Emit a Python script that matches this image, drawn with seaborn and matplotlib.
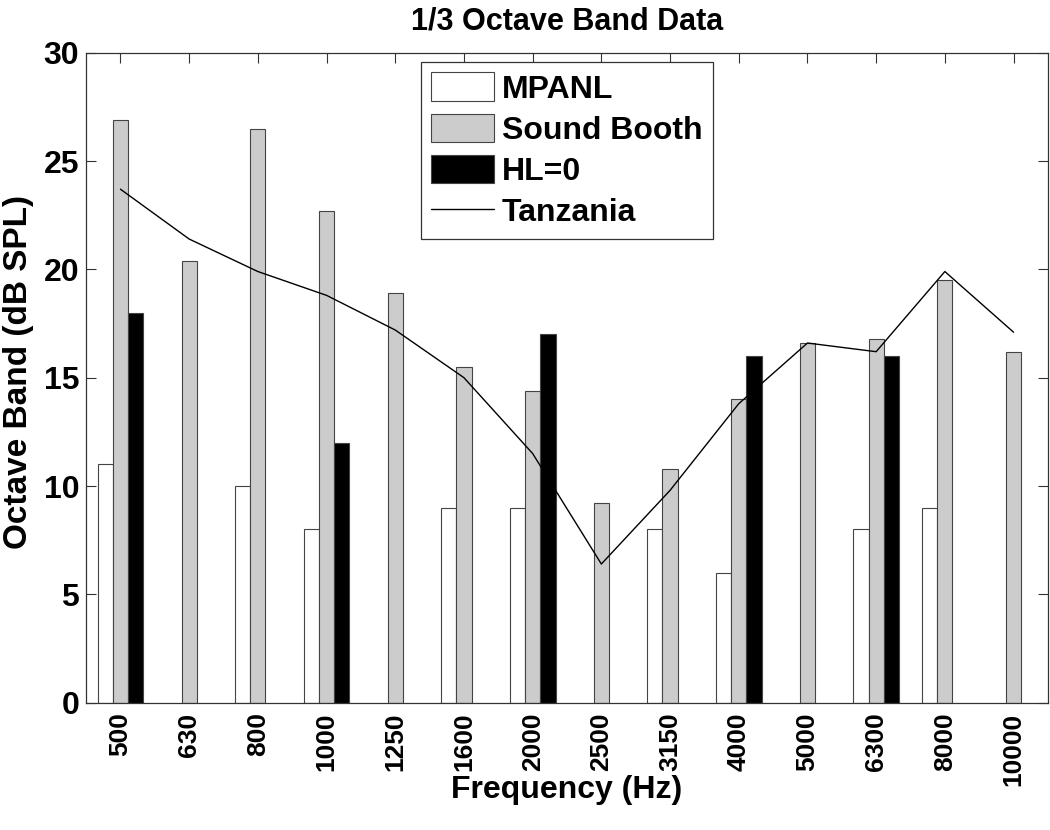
import numpy as np
import pandas as pd
import matplotlib
matplotlib.use("Agg")
import matplotlib.pyplot as plt
import seaborn as sns
from matplotlib.patches import Patch
from matplotlib.lines import Line2D

# 1/3 octave band centre frequencies
freq_labels = ["500", "630", "800", "1000", "1250", "1600", "2000",
               "2500", "3150", "4000", "5000", "6300", "8000", "10000"]

# values (dB SPL), NaN = no bar
mpanl = [11, np.nan, 10, 8, np.nan, 9, 9, np.nan, 8, 6, np.nan, 8, 9, np.nan]
sound_booth = [26.9, 20.4, 26.5, 22.7, 18.9, 15.5, 14.4, 9.2, 10.8, 14.0,
               16.6, 16.8, 19.5, 16.2]
hl0 = [18, np.nan, np.nan, 12, np.nan, np.nan, 17, np.nan, np.nan, 16,
       np.nan, 16, np.nan, np.nan]
tanzania = [23.7, 21.4, 19.9, 18.8, 17.2, 15.0, 11.5, 6.4, 9.8, 13.8,
            16.6, 16.2, 19.9, 17.1]

series_names = ["MPANL", "Sound Booth", "HL=0"]
series_colors = ["white", "#cccccc", "black"]

df = pd.DataFrame({
    "freq": freq_labels * 3,
    "value": mpanl + sound_booth + hl0,
    "series": [s for s in series_names for _ in freq_labels],
})

sns.set_style("ticks")
plt.rcParams["font.family"] = ["Liberation Sans", "DejaVu Sans"]
plt.rcParams["font.weight"] = "bold"
plt.rcParams["text.color"] = "black"
plt.rcParams["axes.labelcolor"] = "black"
plt.rcParams["xtick.labelcolor"] = "black"
plt.rcParams["ytick.labelcolor"] = "black"

fig = plt.figure(figsize=(10.5, 8.3), dpi=100)
ax = fig.add_axes([0.082, 0.1534, 0.916, 0.7831])

sns.barplot(data=df, x="freq", y="value", hue="series",
            order=freq_labels, hue_order=series_names,
            palette=dict(zip(series_names, series_colors)),
            edgecolor="#444444", linewidth=0.8, width=0.667,
            errorbar=None, legend=False, ax=ax)

# Tanzania line at group centres
sns.lineplot(x=np.arange(len(freq_labels)), y=tanzania, color="black",
             linewidth=1.0, ax=ax, zorder=5)

ax.set_xlim(-0.5, len(freq_labels) - 0.5)
ax.set_ylim(0, 30)
ax.set_yticks(range(0, 31, 5))
ax.set_xticks(range(len(freq_labels)))
ax.set_xticklabels(freq_labels, rotation=90, fontsize=19, fontweight="bold")
ax.tick_params(axis="y", labelsize=23)
ax.tick_params(direction="in", length=7, width=0.8, top=True, right=True,
               color="#333333", labelcolor="black")
ax.tick_params(axis="x", pad=7)
ax.tick_params(axis="y", pad=5)
for lab in ax.get_yticklabels():
    lab.set_fontweight("bold")
for sp in ax.spines.values():
    sp.set_visible(True)
    sp.set_linewidth(0.9)
    sp.set_color("#333333")

ax.set_xlabel("Frequency (Hz)", fontsize=23, fontweight="bold")
ax.set_ylabel("Octave Band (dB SPL)", fontsize=24, fontweight="bold")
ax.xaxis.set_label_coords(0.5, -0.112)
ax.yaxis.set_label_coords(-0.054, 0.509)
ax.set_title("1/3 Octave Band Data", fontsize=22, fontweight="bold", pad=17)

handles = [Patch(facecolor=c, edgecolor="#444444", linewidth=0.8)
           for c in series_colors]
handles.append(Line2D([0], [0], color="black", linewidth=1.0))
leg = ax.legend(handles, series_names + ["Tanzania"], loc="upper left",
                bbox_to_anchor=(0.348, 0.986), borderaxespad=0,
                fancybox=False, framealpha=1, edgecolor="#333333",
                prop={"size": 23, "weight": "bold"},
                handlelength=1.95, handleheight=1.0, handletextpad=0.25,
                labelspacing=0.28, borderpad=0.33)
leg.get_frame().set_linewidth(0.9)

fig.savefig("out.png", dpi=100)
